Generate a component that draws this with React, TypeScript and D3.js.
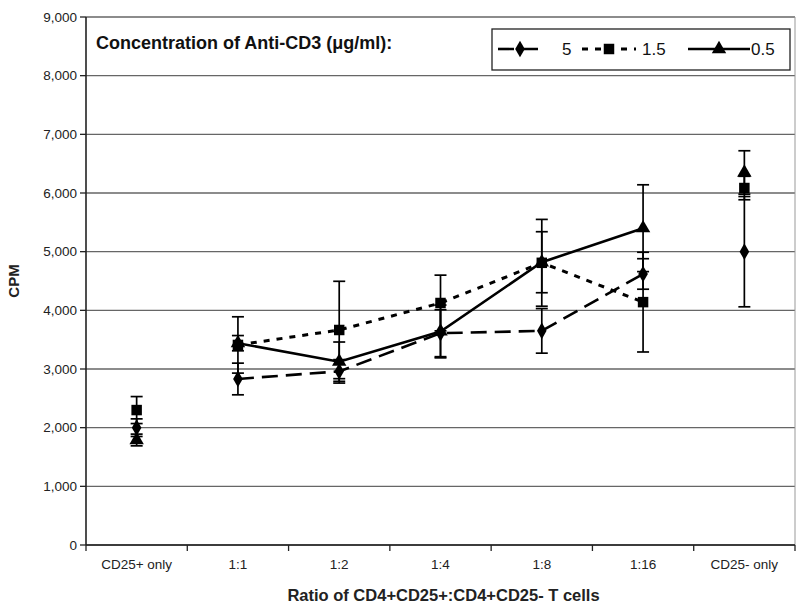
import React from "react";
import * as d3 from "d3";

const categories = ["CD25+ only", "1:1", "1:2", "1:4", "1:8", "1:16", "CD25- only"];
const linkedCategories = ["1:1", "1:2", "1:4", "1:8", "1:16"];
const yTicks = [0, 1000, 2000, 3000, 4000, 5000, 6000, 7000, 8000, 9000];

const s5 = [2000, 2830, 2960, 3610, 3650, 4620, 5000];
const s5Err = [150, 270, 200, 400, 380, 260, 940];
const s15 = [2300, 3410, 3665, 4125, 4810, 4140, 6085];
const s15Err = [230, 480, 830, 475, 740, 850, 200];
const s05 = [1790, 3440, 3125, 3640, 4820, 5400, 6350];
const s05Err = [100, 130, 335, 450, 520, 740, 370];

const seriesNames = ["5", "1.5", "0.5"];

const W = 800, H = 614;
const L = 86, R = 795, T = 17, B = 545;
const FONT = "'Liberation Sans', Arial, sans-serif";

type Series = { name: string; values: number[]; errs: number[]; dash: string; width: number; marker: string };

const series: Series[] = [
  { name: seriesNames[0], values: s5, errs: s5Err, dash: "16,8", width: 2.6, marker: "diamond" },
  { name: seriesNames[1], values: s15, errs: s15Err, dash: "6,7", width: 3, marker: "square" },
  { name: seriesNames[2], values: s05, errs: s05Err, dash: "", width: 2.6, marker: "triangle" },
];

function Marker({ kind, cx, cy }: { kind: string; cx: number; cy: number }) {
  const typ = kind === "diamond" ? d3.symbolDiamond : kind === "square" ? d3.symbolSquare : d3.symbolTriangle;
  const size = kind === "diamond" ? 80 : kind === "square" ? 110 : 90;
  const p = d3.symbol().type(typ).size(size)() as string;
  return <path d={p} transform={`translate(${cx},${cy})`} fill="#000" />;
}

export default function App() {
  const x = d3.scaleBand<string>().domain(categories).range([L, R]);
  const cx = (c: string) => (x(c) as number) + x.bandwidth() / 2;
  const y = d3.scaleLinear().domain([0, 9000]).range([B, T]);

  const line = d3
    .line<[string, number]>()
    .x((d) => cx(d[0]))
    .y((d) => y(d[1]));

  const boundaries = categories.map((c) => x(c) as number).concat([R]);

  const legendItems = [
    { s: series[0], x0: 498, x1: 542, tx: 562 },
    { s: series[1], x0: 582, x1: 636, tx: 642 },
    { s: series[2], x0: 688, x1: 750, tx: 751 },
  ];

  return (
    <svg width={W} height={H} style={{ position: "absolute", left: 0, top: 0, background: "#fff" }} fontFamily={FONT}>
      <rect x={0} y={0} width={W} height={H} fill="#fff" />
      {/* gridlines */}
      {yTicks.map((t) => (
        <line key={t} x1={L} x2={R} y1={y(t)} y2={y(t)} stroke="#666" strokeWidth={1.3} />
      ))}
      <line x1={R} x2={R} y1={T} y2={B} stroke="#999" strokeWidth={1} />
      {/* y axis */}
      <line x1={L} x2={L} y1={T} y2={B} stroke="#222" strokeWidth={1.6} />
      {yTicks.map((t) => (
        <g key={t}>
          <line x1={L - 6} x2={L} y1={y(t)} y2={y(t)} stroke="#222" strokeWidth={1.3} />
          <text x={L - 9} y={y(t)} dy="0.35em" textAnchor="end" fontSize={13.5} fill="#222">
            {d3.format(",")(t)}
          </text>
        </g>
      ))}
      <text transform={`translate(19,${(T + B) / 2}) rotate(-90)`} textAnchor="middle" fontSize={15} fontWeight="bold" fill="#222">
        CPM
      </text>
      {/* x axis */}
      <line x1={L} x2={R} y1={B} y2={B} stroke="#222" strokeWidth={1.6} />
      {boundaries.map((b, i) => (
        <line key={i} x1={b} x2={b} y1={B} y2={B + 6} stroke="#222" strokeWidth={1.3} />
      ))}
      {categories.map((c) => (
        <text key={c} x={cx(c)} y={B + 24} textAnchor="middle" fontSize={13.5} fill="#222">
          {c}
        </text>
      ))}
      <text x={(L + R) / 2 + 3} y={B + 56} textAnchor="middle" fontSize={16.5} fontWeight="bold" fill="#222">
        Ratio of CD4+CD25+:CD4+CD25- T cells
      </text>
      {/* error bars */}
      {series.map((s) =>
        categories.map((c, i) => (
          <g key={s.name + c} stroke="#000" strokeWidth={1.7}>
            <line x1={cx(c)} x2={cx(c)} y1={y(s.values[i] + s.errs[i])} y2={y(s.values[i] - s.errs[i])} />
            <line x1={cx(c) - 6} x2={cx(c) + 6} y1={y(s.values[i] + s.errs[i])} y2={y(s.values[i] + s.errs[i])} />
            <line x1={cx(c) - 6} x2={cx(c) + 6} y1={y(s.values[i] - s.errs[i])} y2={y(s.values[i] - s.errs[i])} />
          </g>
        ))
      )}
      {/* lines */}
      {series.map((s) => {
        const pts = linkedCategories.map((c) => [c, s.values[categories.indexOf(c)]] as [string, number]);
        return (
          <path key={s.name} d={line(pts) as string} fill="none" stroke="#000" strokeWidth={s.width} strokeDasharray={s.dash || undefined} />
        );
      })}
      {/* markers */}
      {series.map((s) =>
        categories.map((c, i) => <Marker key={s.name + c} kind={s.marker} cx={cx(c)} cy={y(s.values[i])} />)
      )}
      {/* title */}
      <text x={96} y={49} fontSize={18} fontWeight="bold" fill="#111">
        Concentration of Anti-CD3 (μg/ml):
      </text>
      {/* legend */}
      <rect x={492} y={29} width={298} height={41} fill="#fff" stroke="#222" strokeWidth={1.3} />
      {legendItems.map((it) => (
        <g key={it.s.name}>
          <line x1={it.x0} x2={it.x1} y1={49} y2={49} stroke="#000" strokeWidth={it.s.width} strokeDasharray={it.s.dash || undefined} />
          <Marker kind={it.s.marker} cx={(it.x0 + it.x1) / 2} cy={49} />
          <text x={it.tx} y={49} dy="0.35em" fontSize={17} fill="#111">
            {it.s.name}
          </text>
        </g>
      ))}
    </svg>
  );
}
